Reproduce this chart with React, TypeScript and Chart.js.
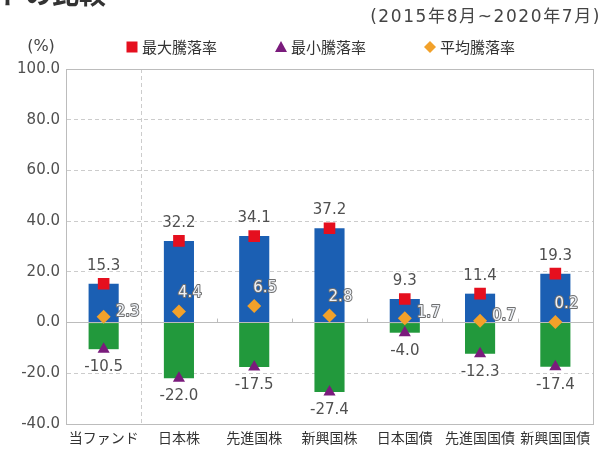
import React, { useEffect, useRef } from 'react';
import { Chart, registerables } from 'chart.js';

Chart.register(...registerables);

// ---- data ----
const categories = ['当ファンド', '日本株', '先進国株', '新興国株', '日本国債', '先進国国債', '新興国国債'];
const maxReturns = [15.3, 32.2, 34.1, 37.2, 9.3, 11.4, 19.3];
const minReturns = [-10.5, -22.0, -17.5, -27.4, -4.0, -12.3, -17.4];
const avgReturns = [2.3, 4.4, 6.5, 2.8, 1.7, 0.7, 0.2];
const yMin = -40;
const yMax = 100;
const yStep = 20;
const seriesNames = ['最大騰落率', '最小騰落率', '平均騰落率'];
const periodLabel = '(2015年8月~2020年7月)';
const unitLabel = '(%)';
const headerTitle = 'ドの比較';
const avgLabelPlacement = ['right', 'above', 'above', 'above', 'right', 'right', 'above'];

// ---- style ----
const BLUE = '#1b5fb3';
const GREEN = '#22993c';
const RED = '#e50f1e';
const PURPLE = '#7a1b7c';
const ORANGE = '#f2a12a';
const NUM_FONT = "'DejaVu Sans', 'Noto Sans CJK JP', sans-serif";
const JP_FONT = "'Noto Sans CJK JP', sans-serif";
const GRID = '#cccccc';
const AXIS = '#bcbcbc';

function haloText(ctx: CanvasRenderingContext2D, text: string, x: number, y: number, fill: string, stroke: string, lw: number) {
  ctx.lineJoin = 'round';
  ctx.lineWidth = lw;
  ctx.strokeStyle = stroke;
  ctx.strokeText(text, x, y);
  ctx.fillStyle = fill;
  ctx.fillText(text, x, y);
}

function drawMarker(ctx: CanvasRenderingContext2D, kind: string, x: number, y: number, color: string) {
  ctx.fillStyle = color;
  ctx.beginPath();
  if (kind === 'rect') {
    ctx.rect(x - 5.5, y - 5.5, 11, 11);
  } else if (kind === 'triangle') {
    ctx.moveTo(x, y - 6);
    ctx.lineTo(x + 6, y + 5);
    ctx.lineTo(x - 6, y + 5);
    ctx.closePath();
  } else {
    ctx.moveTo(x, y - 6);
    ctx.lineTo(x + 6, y);
    ctx.lineTo(x, y + 6);
    ctx.lineTo(x - 6, y);
    ctx.closePath();
  }
  ctx.fill();
}

const annotatePlugin = {
  id: 'annotate',
  beforeDatasetsDraw(chart: any) {
    const { ctx, scales } = chart;
    const xs = scales.x;
    const y0 = scales.y.getPixelForValue(0);
    ctx.save();
    ctx.strokeStyle = AXIS;
    ctx.lineWidth = 1;
    for (let i = 1; i < categories.length; i++) {
      const bx = Math.round((xs.getPixelForValue(i - 1) + xs.getPixelForValue(i)) / 2) + 0.5;
      ctx.beginPath();
      ctx.moveTo(bx, y0 - 4);
      ctx.lineTo(bx, y0);
      ctx.stroke();
    }
    ctx.restore();
  },
  afterDatasetsDraw(chart: any) {
    const { ctx } = chart;
    const maxMeta = chart.getDatasetMeta(2).data;
    const minMeta = chart.getDatasetMeta(3).data;
    const avgMeta = chart.getDatasetMeta(4).data;
    ctx.save();
    ctx.font = `15px ${NUM_FONT}`;
    ctx.textBaseline = 'middle';
    ctx.textAlign = 'center';
    categories.forEach((_, i) => {
      const pMax = maxMeta[i];
      const pMin = minMeta[i];
      haloText(ctx, maxReturns[i].toFixed(1), pMax.x, pMax.y - 18, '#505050', '#ffffff', 3);
      haloText(ctx, minReturns[i].toFixed(1), pMin.x, pMin.y + 18, '#505050', '#ffffff', 3);
    });
    categories.forEach((_, i) => {
      const p = avgMeta[i];
      const t = avgReturns[i].toFixed(1);
      if (avgLabelPlacement[i] === 'right') {
        ctx.textAlign = 'left';
        haloText(ctx, t, p.x + 12, p.y - 5, '#eef2f8', '#707070', 2);
      } else {
        ctx.textAlign = 'center';
        haloText(ctx, t, p.x + 11, p.y - 18, '#eef2f8', '#707070', 2);
      }
    });
    ctx.restore();
  },
  afterDraw(chart: any) {
    const { ctx, chartArea } = chart;
    ctx.save();
    // cut-off header title
    ctx.font = `bold 27px ${JP_FONT}`;
    ctx.fillStyle = '#333333';
    ctx.textAlign = 'left';
    ctx.textBaseline = 'alphabetic';
    ctx.fillText(headerTitle, -2, 4);
    // period
    ctx.font = `17px ${NUM_FONT}`;
    ctx.fillStyle = '#444444';
    ctx.textAlign = 'right';
    ctx.textBaseline = 'middle';
    (ctx as any).letterSpacing = '1.6px';
    ctx.fillText(periodLabel, 601, 18);
    (ctx as any).letterSpacing = '0px';
    // unit
    const hy = chartArea.top - 22;
    ctx.font = `16px ${NUM_FONT}`;
    ctx.textAlign = 'center';
    ctx.fillText(unitLabel, 41, hy);
    // legend
    const markers = ['rect', 'triangle', 'rectRot'];
    const colors = [RED, PURPLE, ORANGE];
    ctx.font = `15px ${JP_FONT}`;
    ctx.textAlign = 'left';
    let x = 126;
    seriesNames.forEach((name, i) => {
      drawMarker(ctx, markers[i], x + 6, hy, colors[i]);
      ctx.fillStyle = '#333333';
      ctx.fillText(name, x + 16, hy);
      x += 16 + ctx.measureText(name).width + 58;
    });
    ctx.restore();
  },
};

export default function App() {
  const canvasRef = useRef<HTMLCanvasElement | null>(null);

  useEffect(() => {
    if (!canvasRef.current) return;
    const chart = new Chart(canvasRef.current, {
      type: 'bar',
      data: {
        labels: categories,
        datasets: [
          {
            type: 'bar',
            label: '最大騰落率(バー)',
            data: maxReturns,
            backgroundColor: BLUE,
            grouped: false,
            barPercentage: 0.4,
            categoryPercentage: 1,
            order: 3,
          } as any,
          {
            type: 'bar',
            label: '最小騰落率(バー)',
            data: minReturns,
            backgroundColor: GREEN,
            grouped: false,
            barPercentage: 0.4,
            categoryPercentage: 1,
            order: 3,
          } as any,
          {
            type: 'line',
            label: seriesNames[0],
            data: maxReturns,
            showLine: false,
            pointStyle: 'rect',
            pointRadius: 8.2,
            pointBackgroundColor: RED,
            pointBorderWidth: 0,
            order: 1,
          } as any,
          {
            type: 'line',
            label: seriesNames[1],
            data: minReturns,
            showLine: false,
            pointStyle: 'triangle',
            pointRadius: 7,
            pointBackgroundColor: PURPLE,
            pointBorderWidth: 0,
            order: 1,
          } as any,
          {
            type: 'line',
            label: seriesNames[2],
            data: avgReturns,
            showLine: false,
            pointStyle: 'rectRot',
            pointRadius: 7,
            pointBackgroundColor: ORANGE,
            pointBorderWidth: 0,
            order: 0,
          } as any,
        ],
      },
      options: {
        responsive: false,
        animation: false,
        layout: { padding: { top: 69, right: 11, bottom: 0, left: 0 } },
        plugins: {
          legend: { display: false },
          title: { display: false },
          tooltip: { enabled: false },
        },
        scales: {
          x: {
            offset: true,
            grid: {
              offset: true,
              drawTicks: false,
              color: (c: any) => (c.index === 1 ? GRID : c.index === undefined ? AXIS : 'rgba(0,0,0,0)'),
              lineWidth: 1,
            },
            border: {
              color: AXIS,
              dash: (c: any) => (c.index === 1 ? [4, 3] : []),
            },
            ticks: {
              color: '#333333',
              font: { family: JP_FONT, size: 14 },
              padding: 5,
              maxRotation: 0,
              autoSkip: false,
            },
            afterFit: (s: any) => {
              s.height = 26;
            },
          },
          y: {
            min: yMin,
            max: yMax,
            grid: {
              drawTicks: false,
              color: (c: any) => (c.tick && (c.tick.value === 0 || c.tick.value === yMax || c.tick.value === yMin) ? AXIS : GRID),
            },
            border: {
              color: AXIS,
              dash: (c: any) => (c.tick && (c.tick.value === 0 || c.tick.value === yMax || c.tick.value === yMin) ? [] : [4, 3]),
            },
            ticks: {
              stepSize: yStep,
              color: '#505050',
              font: { family: NUM_FONT, size: 15 },
              padding: 6,
              callback: (v: any) => Number(v).toFixed(1),
            },
            afterFit: (s: any) => {
              s.width = 66;
            },
          },
        },
      },
      plugins: [annotatePlugin],
    });
    return () => chart.destroy();
  }, []);

  return (
    <div style={{ position: 'absolute', left: 0, top: 0, width: 604, height: 450, background: '#ffffff' }}>
      <canvas ref={canvasRef} width={604} height={450} />
    </div>
  );
}
